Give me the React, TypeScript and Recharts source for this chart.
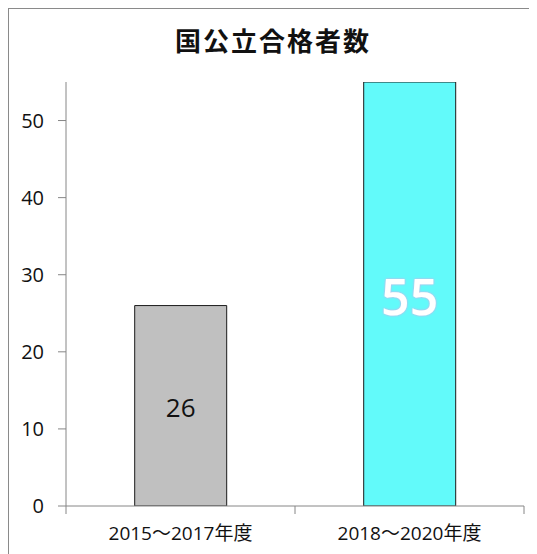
import React from "react";
import { BarChart, Bar, XAxis, YAxis, Cell, LabelList } from "recharts";

const title = "国公立合格者数";
const categories = ["2015～2017年度", "2018～2020年度"];
const passers = [26, 55];
const yTicks = [0, 10, 20, 30, 40, 50];
const barColors = ["#c0c0c0", "#62fafa"];

const data = categories.map((name, i) => ({ name, value: passers[i] }));

const FONT = "'Open Sans', 'Noto Sans CJK JP', sans-serif";

const XTick = (props: any) => {
  const { x, y, payload, index } = props;
  const off = payload && payload.offset ? payload.offset : 114.5;
  const axisY = y - 8;
  return (
    <g>
      <line x1={x - off} y1={axisY} x2={x - off} y2={axisY + 8} stroke="#868686" strokeWidth={1} />
      {index === categories.length - 1 ? (
        <line x1={x + off} y1={axisY} x2={x + off} y2={axisY + 8} stroke="#868686" strokeWidth={1} />
      ) : null}
      <text
        x={x}
        y={axisY + 29}
        textAnchor="middle"
        dominantBaseline="middle"
        fontSize={19}
        fill="#111"
        fontFamily={FONT}
      >
        {payload.value}
      </text>
    </g>
  );
};

const BarValueLabel = (props: any) => {
  const { x, y, width, height, value, index } = props;
  const cx = x + width / 2;
  const cy = y + height / 2;
  if (index === 1) {
    return (
      <text
        x={cx}
        y={cy + 2}
        textAnchor="middle"
        dominantBaseline="central"
        fontSize={50}
        fontWeight={600}
        fill="#ffffff"
        fontFamily={FONT}
        filter="url(#pinkGlow)"
      >
        {value}
      </text>
    );
  }
  return (
    <text
      x={cx}
      y={cy + 1}
      textAnchor="middle"
      dominantBaseline="central"
      fontSize={26}
      fill="#111"
      fontFamily={FONT}
    >
      {value}
    </text>
  );
};

export default function App() {
  return (
    <div
      style={{
        position: "relative",
        width: 528,
        height: 545,
        borderTop: "1px solid #8a8a8a",
        borderLeft: "1px solid #8a8a8a",
        background: "#fff",
      }}
    >
      <div
        style={{
          position: "absolute",
          left: 0,
          top: 15,
          width: 528,
          textAlign: "center",
          fontFamily: "'Noto Sans CJK JP', sans-serif",
          fontWeight: 700,
          fontSize: 26,
          letterSpacing: 2,
          color: "#111",
          lineHeight: "32px",
        }}
      >
        {title}
      </div>
      <BarChart
        width={528}
        height={544}
        data={data}
        margin={{ top: 73, right: 13, left: 0, bottom: 8 }}
        barCategoryGap="30%"
      >
        <defs>
          <filter id="pinkGlow" x="-20%" y="-20%" width="140%" height="140%">
            <feDropShadow dx="0" dy="0" stdDeviation="1.2" floodColor="#ff8fe0" floodOpacity="0.9" />
          </filter>
        </defs>
        <XAxis
          dataKey="name"
          tickLine={false}
          axisLine={{ stroke: "#868686" }}
          tick={<XTick />}
          height={39}
          interval={0}
        />
        <YAxis
          domain={[0, 55]}
          ticks={yTicks}
          width={57}
          tickSize={8}
          tickMargin={14}
          axisLine={{ stroke: "#868686" }}
          tickLine={{ stroke: "#868686" }}
          tick={{ fontSize: 20, fill: "#111", fontFamily: FONT }}
          allowDataOverflow
        />
        <Bar dataKey="value" stroke="#1a1a1a" strokeWidth={1} isAnimationActive={false}>
          {data.map((d, i) => (
            <Cell key={d.name} fill={barColors[i]} />
          ))}
          <LabelList dataKey="value" content={<BarValueLabel />} />
        </Bar>
      </BarChart>
    </div>
  );
}
